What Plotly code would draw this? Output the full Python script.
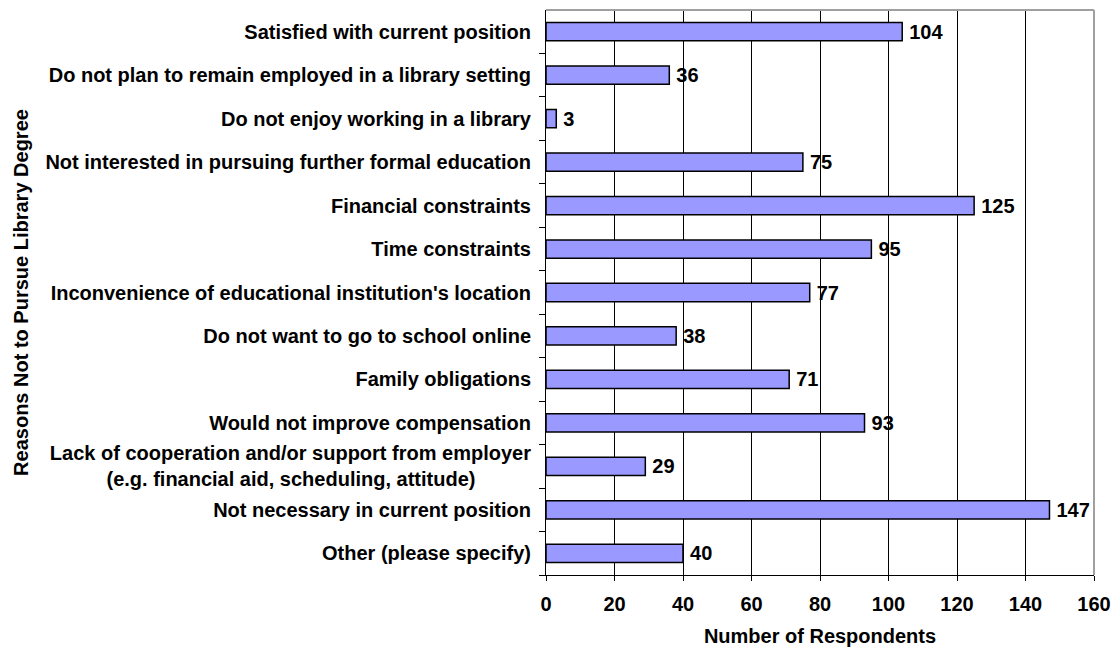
import plotly.graph_objects as go

NB = "&nbsp;"
categories = [
    "Satisfied with current position",
    "Do not plan to remain employed in a library setting",
    "Do not enjoy working in a library",
    "Not interested in pursuing further formal education",
    "Financial constraints",
    "Time constraints",
    "Inconvenience of educational institution's location",
    "Do not want to go to school online",
    "Family obligations",
    "Would not improve compensation",
    "Lack of cooperation and/or support from employer<br>(e.g. financial aid, scheduling, attitude)" + NB * 10,
    "Not necessary in current position",
    "Other (please specify)",
]
values = [104, 36, 3, 75, 125, 95, 77, 38, 71, 93, 29, 147, 40]
x_ticks = [0, 20, 40, 60, 80, 100, 120, 140, 160]

FONT = "Liberation Sans, Arial, sans-serif"
FS = 20

fig = go.Figure(go.Bar(
    y=categories,
    x=values,
    orientation="h",
    width=0.42,
    marker=dict(color="#9999FF", line=dict(color="#000000", width=1.5)),
    text=[str(v) for v in values],
    textposition="outside",
    constraintext="none",
    textfont=dict(family=FONT, size=FS, color="#000000"),
    texttemplate="<b>\u2009%{text}</b>",
    cliponaxis=False,
    hoverinfo="skip",
))

fig.update_layout(
    width=1117, height=652,
    margin=dict(l=546, r=23, t=10, b=77, autoexpand=False),
    paper_bgcolor="white", plot_bgcolor="white",
    showlegend=False,
    font=dict(family=FONT, color="#000000"),
    xaxis=dict(
        range=[0, 160], tickvals=x_ticks,
        ticktext=[f"<b>{t}</b>" for t in x_ticks],
        tickfont=dict(size=FS, family=FONT),
        showgrid=True, gridcolor="#000000", gridwidth=1,
        showline=True, linecolor="#000000", linewidth=1,
        mirror=False, ticks="outside", ticklen=5, tickcolor="#000000",
        ticklabelstandoff=6,
        zeroline=False, automargin=False,
        title=dict(text="<b>Number of Respondents</b>", font=dict(size=FS, family=FONT), standoff=14),
    ),
    yaxis=dict(
        categoryorder="array", categoryarray=categories[::-1],
        tickvals=categories,
        ticktext=[f"<b>{c}</b>" for c in categories],
        tickfont=dict(size=FS, family=FONT),
        showline=True, linecolor="#000000", linewidth=1,
        ticks="outside", tickson="boundaries", ticklen=6, tickcolor="#000000",
        ticklabelstandoff=10,
        showgrid=False, automargin=False,
        title=dict(text="<b>Reasons Not to Pursue Library Degree</b>", font=dict(size=FS, family=FONT), standoff=11),
    ),
    shapes=[
        dict(type="line", xref="paper", yref="paper", x0=0, x1=1, y0=1, y1=1,
             line=dict(color="#A0A0A0", width=2)),
        dict(type="line", xref="paper", yref="paper", x0=1, x1=1, y0=0, y1=1,
             line=dict(color="#A0A0A0", width=2)),
    ],
)

fig.write_html("out.html", config={"displayModeBar": False},
               post_script="document.body.style.margin='0';")
